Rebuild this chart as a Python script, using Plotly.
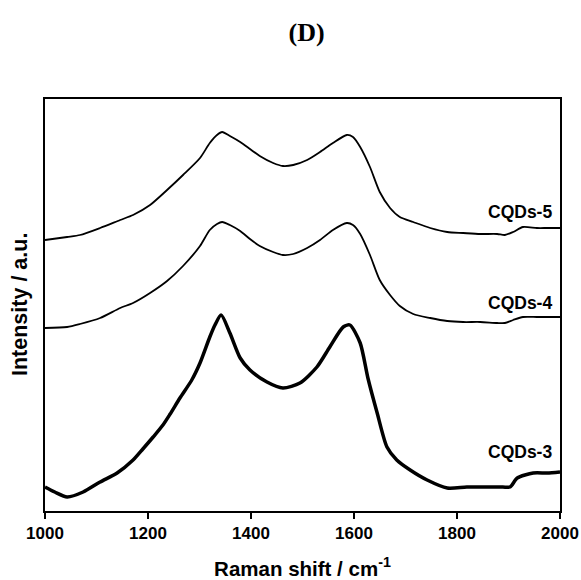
import plotly.graph_objects as go

# CQDs-5 (top curve)
wn5 = [1000, 1043, 1068, 1107, 1146, 1171, 1204, 1237, 1268, 1301, 1320, 1334, 1344, 1359,
       1379, 1398, 1417, 1443, 1462, 1482, 1509, 1534, 1559, 1586, 1598, 1612, 1631, 1650,
       1670, 1689, 1715, 1748, 1781, 1812, 1845, 1878, 1893, 1909, 1928, 1955, 1975, 2000]
int5 = [271, 274, 276, 283, 291, 296, 306, 321, 336, 353, 368, 376, 379, 375,
        369, 362, 355, 348, 345, 346, 351, 359, 368, 376, 374, 364, 344, 319,
        303, 294, 289, 283, 279, 278, 277, 277, 276, 279, 284, 283, 283, 283]

# CQDs-4 (middle curve)
wn4 = wn5
int4 = [183, 184, 187, 193, 203, 208, 218, 230, 245, 265, 281, 287, 289, 286,
        280, 272, 265, 259, 256, 257, 263, 271, 281, 288, 286, 277, 256, 231,
        216, 205, 197, 193, 190, 189, 189, 188, 188, 191, 194, 194, 194, 194]

# CQDs-3 (bottom, noisy curve)
wn3 = [1000, 1019, 1043, 1074, 1107, 1140, 1171, 1190, 1210, 1229, 1243, 1262, 1285, 1301,
       1320, 1330, 1342, 1359, 1379, 1398, 1431, 1462, 1495, 1528, 1553, 1579, 1592, 1612,
       1627, 1645, 1664, 1683, 1709, 1742, 1781, 1819, 1858, 1889, 1903, 1917, 1948, 1975, 2000]
int3 = [24, 19, 14, 19, 29, 38, 51, 62, 74, 86, 97, 113, 131, 148,
        174, 186, 196, 178, 153, 141, 129, 123, 128, 144, 164, 184, 186, 168,
        133, 98, 64, 51, 41, 31, 23, 24, 24, 24, 24, 33, 38, 38, 39]

series_names = ["CQDs-5", "CQDs-4", "CQDs-3"]
label_y = [299, 208, 59]
x_ticks = [1000, 1200, 1400, 1600, 1800, 2000]

FONT = "Liberation Sans, Arial"
fig = go.Figure()
for wn, inten, w in [(wn5, int5, 1.8), (wn4, int4, 1.8), (wn3, int3, 3.5)]:
    fig.add_trace(go.Scatter(x=wn, y=inten, mode="lines",
                             line=dict(color="black", width=w, shape="spline", smoothing=0.7),
                             showlegend=False))

for name, ly in zip(series_names, label_y):
    fig.add_annotation(x=1988, y=ly, text="<b>" + name + "</b>", showarrow=False,
                       xanchor="right", yanchor="middle",
                       font=dict(family=FONT, size=17.5, color="black"))

fig.add_annotation(xref="paper", yref="paper", x=0, y=0.5, xshift=-25,
                   text="<b>Intensity / a.u.</b>", textangle=-90, showarrow=False,
                   xanchor="center", yanchor="middle",
                   font=dict(family=FONT, size=21.5, color="black"))

fig.update_layout(
    width=581, height=580,
    margin=dict(l=45, r=21, t=99, b=69, autoexpand=False),
    paper_bgcolor="white", plot_bgcolor="white",
    font=dict(family=FONT, color="black"),
    title=dict(text="<b>(D)</b>", x=0.508, xanchor="center", xref="paper",
               y=1 - 32 / 580, yanchor="middle", yref="container", automargin=False,
               font=dict(family="Liberation Serif, Times New Roman", size=26, color="black")),
    xaxis=dict(range=[1000, 2000], tickvals=x_ticks, ticktext=["<b>%d</b>" % t for t in x_ticks],
               ticks="outside", ticklen=6, tickwidth=1.5, automargin=False, ticklabelstandoff=0,
               tickcolor="black", showline=True, linecolor="black", linewidth=1.5, mirror=True,
               showgrid=False, zeroline=False,
               tickfont=dict(size=17, family=FONT),
               title=dict(text="<b>Raman shift / cm<sup>-1</sup></b>", standoff=22,
                          font=dict(size=20.5, family=FONT))),
    yaxis=dict(range=[0, 412], showticklabels=False, ticks="", showline=True, linecolor="black",
               linewidth=1.5, mirror=True, showgrid=False, zeroline=False, automargin=False),
)

fig.write_html("out.html", config={"displayModeBar": False},
               post_script="document.body.style.margin='0';document.body.style.overflow='hidden';")
